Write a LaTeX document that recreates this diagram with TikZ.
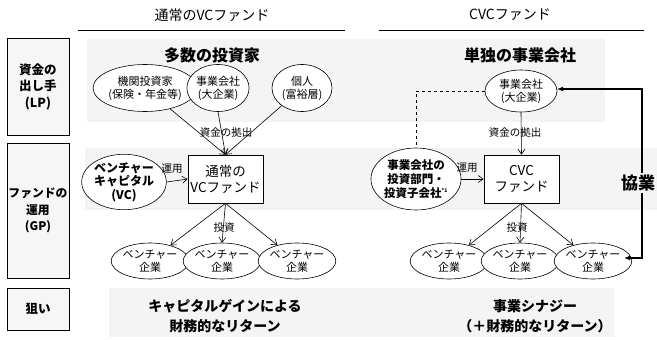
\documentclass[tikz,border=0pt]{standalone}
\usepackage{fontspec}
\setmainfont{Noto Sans CJK JP}
\usetikzlibrary{shapes.geometric,arrows.meta}
\definecolor{band}{HTML}{F4F4F4}
\definecolor{boxfill}{HTML}{F6F6F6}
\tikzset{
  sidebox/.style={draw, fill=boxfill, line width=0.6pt, minimum width=62pt, align=center, font=\bfseries\fontsize{12.5}{16.5}\selectfont, inner sep=0pt},
  oval/.style={draw, ellipse, fill=white, line width=0.6pt, inner sep=0pt, align=center, font=\fontsize{11}{13}\selectfont},
  boldoval/.style={oval, font=\bfseries\fontsize{12}{13.5}\selectfont},
  fund/.style={draw, fill=white, line width=0.6pt, minimum width=75pt, minimum height=48pt, align=center, inner sep=0pt, font=\fontsize{13.5}{16}\selectfont},
  lbl/.style={font=\fontsize{10.5}{12}\selectfont, inner sep=0pt},
  title/.style={font=\bfseries\fontsize{16}{18}\selectfont, inner sep=0pt, align=center},
  head/.style={font=\fontsize{14}{16}\selectfont, inner sep=0pt},
  arr/.style={-{Straight Barb[length=5pt,width=7pt]}, line width=0.6pt},
}
\begin{document}
\begin{tikzpicture}[x=1pt,y=-1pt]
\useasboundingbox (0,0) rectangle (657,340);
% bands
\fill[band] (87,39) rectangle (605,122);
\fill[band] (85,148) rectangle (657,210);
\fill[band] (109,288) rectangle (614,337);
% side boxes
\node[sidebox, minimum height=97pt] (lp) at (38,86.5) {資金の\\出し手\\(LP)};
\node[sidebox, minimum height=135pt, font=\bfseries\fontsize{11.8}{16.5}\selectfont] (gp) at (38,210.5) {ファンドの\\運用\\(GP)};
\node[sidebox, minimum height=42pt] (aim) at (38,309) {狙い};
% headers
\node[head] (h1) at (212,15) {通常のVCファンド};
\node[head] (h2) at (510,15) {CVCファンド};
\coordinate (h1a) at (78,30); \coordinate (h1b) at (345,30);
\coordinate (h2a) at (379,30); \coordinate (h2b) at (644,30);
\draw[line width=0.6pt] (h1a) -- (h1b);
\draw[line width=0.6pt] (h2a) -- (h2b);
% VC side
\node[title] (many) at (212,55) {多数の投資家};
\node[oval, minimum width=74pt, minimum height=47pt] (inst) at (145,88) {機関投資家\\(保険・年金等)};
\node[oval, minimum width=60pt, minimum height=47pt] (corp1) at (218,88) {事業会社\\(大企業)};
\node[oval, minimum width=60pt, minimum height=47pt] (indiv) at (302,88) {個人\\(富裕層)};
\node[fund] (vcf) at (225.5,179) {通常の\\VCファンド};
\node[boldoval, minimum width=74pt, minimum height=50pt] (vc) at (124,182) {ベンチャー\\キャピタル\\(VC)};
\draw[arr] (inst) -- (vcf.north);
\draw[arr] (corp1.south) -- (vcf.north);
\draw[arr] (indiv) -- (vcf.north);
\node[lbl] (k1) at (226,133) {資金の拠出};
\draw[arr] (vc.east) -- (vcf.west);
\node[lbl] (u1) at (172,169) {運用};
\node[oval, minimum width=57pt, minimum height=36pt] (v1) at (150,261) {ベンチャー\\企業};
\node[oval, minimum width=57pt, minimum height=36pt] (v2) at (222,261) {ベンチャー\\企業};
\node[oval, minimum width=57pt, minimum height=36pt] (v3) at (297,261) {ベンチャー\\企業};
\draw[arr] (vcf.south) -- (v1);
\draw[arr] (vcf.south) -- (v2.north);
\draw[arr] (vcf.south) -- (v3);
\node[lbl] (t1) at (224,228) {投資};
\node[title, font=\bfseries\fontsize{14}{20}\selectfont] (g1) at (225,316) {キャピタルゲインによる\\財務的なリターン};
% CVC side
\node[title] (single) at (520,55) {単独の事業会社};
\node[oval, minimum width=72pt, minimum height=42pt] (corp2) at (521,91) {事業会社\\(大企業)};
\node[fund] (cvcf) at (521.5,179) {CVC\\ファンド};
\node[boldoval, minimum width=78pt, minimum height=62pt, font=\bfseries\fontsize{11.5}{14}\selectfont] (dept) at (416,179) {事業会社の\\投資部門・\\投資子会社\textsuperscript{\fontsize{5}{5}\selectfont *1}};
\draw[line width=0.6pt, dashed] (corp2.west) -| (dept.north);
\draw[arr] (corp2.south) -- (cvcf.north);
\node[lbl] (k2) at (515,133) {資金の拠出};
\draw[arr] (dept.east) -- (cvcf.west);
\node[lbl] (u2) at (467,168) {運用};
\node[oval, minimum width=60pt, minimum height=36pt] (v4) at (449,261) {ベンチャー\\企業};
\node[oval, minimum width=60pt, minimum height=36pt] (v5) at (520,261) {ベンチャー\\企業};
\node[oval, minimum width=62pt, minimum height=36pt] (v6) at (593,261) {ベンチャー\\企業};
\draw[arr] (cvcf.south) -- (v4);
\draw[arr] (cvcf.south) -- (v5.north);
\draw[arr] (cvcf.south) -- (v6);
\node[lbl] (t2) at (517,228) {投資};
\coordinate (c1) at (642,258);
\coordinate (c2) at (642,89);
\coordinate (v6e) at (624,258);
\coordinate (c2e) at (557,89);
\draw[{Latex[length=6pt,width=5pt]}-{Latex[length=6pt,width=5pt]}, line width=2pt] (v6e) -- (c1) -- (c2) -- (c2e);
\node[font=\bfseries\fontsize{17}{19}\selectfont, fill=band, inner sep=2pt] (kyo) at (638,183) {協業};
\node[title, font=\bfseries\fontsize{14}{20}\selectfont] (g2) at (535,316) {事業シナジー\\（＋財務的なリターン）};
\end{tikzpicture}
\end{document}
